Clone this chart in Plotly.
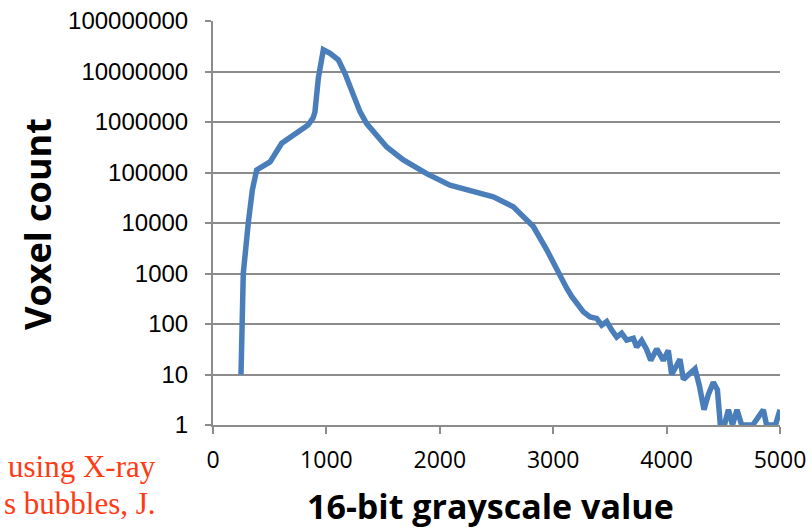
import plotly.graph_objects as go

# Histogram of 16-bit grayscale values (voxel counts, log scale)
grayscale = [247, 267, 311, 347, 385, 450, 503, 606, 705, 838, 882, 899, 929, 973,
             1032, 1105, 1164, 1223, 1296, 1355, 1444, 1532, 1678, 1884, 2090, 2295,
             2472, 2648, 2707, 2795, 2825, 2943, 3075, 3119, 3163, 3222, 3266, 3325,
             3383, 3428, 3472, 3516, 3560, 3604, 3648, 3707, 3736, 3780, 3825, 3860,
             3913, 3971, 4015, 4045, 4118, 4148, 4192, 4251, 4289, 4330, 4368, 4412,
             4448, 4474, 4510, 4545, 4581, 4621, 4662, 4760, 4853, 4882, 4960, 5000]
voxel_count = [10, 1000, 10000, 45000, 112000, 140000, 162000, 380000, 550000, 870000,
               1200000, 1580000, 7400000, 27000000, 23000000, 17000000, 9100000,
               4000000, 1600000, 930000, 550000, 320000, 178000, 95000, 56000, 42000,
               33000, 21000, 15500, 10700, 8500, 2950, 740, 510, 350, 240, 174, 138,
               129, 95, 112, 76, 55, 66, 48, 52, 35, 47, 31, 19, 32, 19, 30, 10, 20, 8,
               10, 13, 6, 2, 4, 7, 5, 1, 1, 2, 1, 2, 1, 1, 2, 1, 1, 2]

y_ticks = [1, 10, 100, 1000, 10000, 100000, 1000000, 10000000, 100000000]
y_tick_text = [str(v) for v in y_ticks]
x_ticks = [0, 1000, 2000, 3000, 4000, 5000]

grid = "#8c8c8c"
caption_red = "#ff3a14"

fig = go.Figure()
fig.add_trace(go.Scatter(
    x=grayscale, y=voxel_count, mode="lines",
    line=dict(color="#4a7ebb", width=5.5),
    showlegend=False,
))

fig.update_layout(
    width=811, height=532,
    margin=dict(l=213, r=31, t=21, b=107),
    paper_bgcolor="white", plot_bgcolor="white",
    xaxis=dict(
        range=[0, 5000], tickvals=x_ticks, showgrid=False, zeroline=False,
        automargin=False,
        showline=True, linecolor=grid, linewidth=2,
        ticks="outside", ticklen=7, tickcolor=grid, tickwidth=2,
        ticklabelstandoff=6,
        tickfont=dict(family="Open Sans", size=23, color="black"),
        layer="below traces",
    ),
    yaxis=dict(
        type="log", range=[0, 8], tickvals=y_ticks, ticktext=y_tick_text,
        automargin=False,
        showgrid=True, gridcolor=grid, gridwidth=2, zeroline=False,
        showline=True, linecolor=grid, linewidth=2,
        ticks="outside", ticklen=6, tickcolor=grid, tickwidth=2,
        ticklabelstandoff=12,
        tickfont=dict(family="Liberation Sans", size=24, color="black"),
        layer="below traces",
    ),
)

px_w, px_h = 567, 404

# Axis titles
fig.add_annotation(text="<b>16-bit grayscale value</b>", xref="paper", yref="paper",
                   x=(490 - 213) / px_w, y=-(506 - 425) / px_h,
                   xanchor="center", yanchor="middle", showarrow=False,
                   font=dict(family="Open Sans", size=34, color="black"))
fig.add_annotation(text="<b>Voxel count</b>", xref="paper", yref="paper",
                   x=(37 - 213) / px_w, y=(425 - 224) / px_h, textangle=-90,
                   xanchor="center", yanchor="middle", showarrow=False,
                   font=dict(family="Open Sans", size=36, color="black"))

# Caption fragment at lower left
for line_text, y_px in [("using X-ray", 466), ("s bubbles, J.", 503)]:
    fig.add_annotation(text=line_text, xref="paper", yref="paper",
                       x=(158 - 213) / px_w, y=-(y_px - 425) / px_h,
                       xanchor="right", yanchor="middle", showarrow=False,
                       font=dict(family="Liberation Serif", size=31, color=caption_red))

fig.write_html("out.html")
